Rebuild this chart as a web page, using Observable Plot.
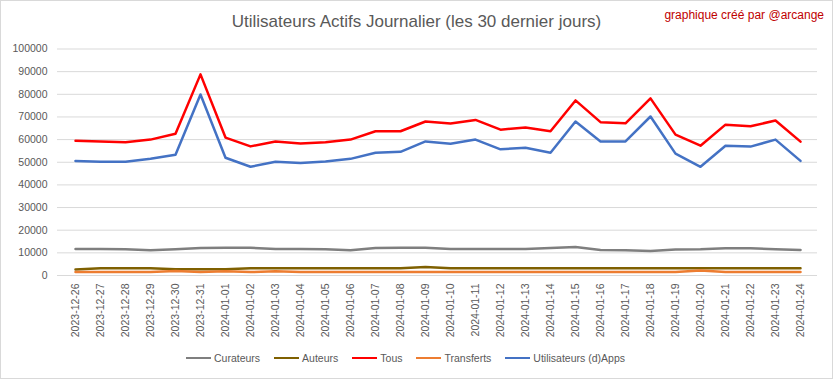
<!DOCTYPE html>
<html><head><meta charset="utf-8">
<script src="https://cdn.jsdelivr.net/npm/d3@7"></script>
<script src="https://cdn.jsdelivr.net/npm/@observablehq/plot@0.6"></script>
<style>
body{margin:0;background:#fff;font-family:"Liberation Sans",Arial,sans-serif;}
#chart{position:relative;width:833px;height:379px;box-sizing:border-box;border:1px solid #d9d9d9;background:#fff;overflow:hidden}
#title{position:absolute;left:0;width:831px;top:11px;text-align:center;font-size:17px;color:#595959;white-space:nowrap}
#credit{position:absolute;right:8px;top:7px;font-size:12px;color:#c00000;white-space:nowrap}
#plot{position:absolute;left:0;top:40px}
#legend{position:absolute;left:0;width:809px;padding-right:22px;top:351px;display:flex;justify-content:center;align-items:center;font-size:10.5px;color:#595959;white-space:nowrap}
.item{display:flex;align-items:center;margin:0 7px}
.sw{display:inline-block;width:25px;height:2.5px;margin-right:3px}
</style>
</head><body>
<div id="chart">
  <div id="title">Utilisateurs Actifs Journalier (les 30 dernier jours)</div>
  <div id="credit">graphique créé par @arcange</div>
  <div id="plot"></div>
  <div id="legend"></div>
</div>
<script>
const dates = ["2023-12-26","2023-12-27","2023-12-28","2023-12-29","2023-12-30","2023-12-31","2024-01-01","2024-01-02","2024-01-03","2024-01-04","2024-01-05","2024-01-06","2024-01-07","2024-01-08","2024-01-09","2024-01-10","2024-01-11","2024-01-12","2024-01-13","2024-01-14","2024-01-15","2024-01-16","2024-01-17","2024-01-18","2024-01-19","2024-01-20","2024-01-21","2024-01-22","2024-01-23","2024-01-24"];
const curateurs = [11700,11700,11600,11200,11600,12100,12200,12200,11700,11700,11600,11100,12100,12200,12200,11700,11700,11700,11700,12100,12600,11300,11200,10800,11500,11600,12000,12000,11600,11300];
const auteurs = [2700,3200,3200,3200,2800,2800,2800,3200,3200,3200,3200,3200,3200,3200,3800,3200,3200,3200,3200,3200,3200,3200,3200,3200,3200,3200,3200,3200,3200,3200];
const tous = [59500,59200,58800,60000,62600,88800,60900,57000,59200,58300,58800,60000,63700,63700,68000,67100,68700,64400,65300,63700,77300,67700,67200,78200,62200,57300,66600,65900,68400,59100];
const transferts = [1500,1500,1500,1500,2000,1500,1900,1500,1900,1500,1500,1500,1500,1500,1500,1500,1500,1500,1500,1500,1500,1500,1500,1500,1500,2200,1500,1500,1500,1500];
const apps = [50600,50200,50200,51500,53300,79900,52000,48000,50200,49700,50300,51500,54200,54600,59200,58200,60000,55700,56400,54200,68000,59200,59200,70200,53800,48000,57300,56900,60000,50600];
const seriesNames = ["Curateurs","Auteurs","Tous","Transferts","Utilisateurs (d)Apps"];
const seriesColors = ["#7f7f7f","#7f6000","#ff0000","#ed7d31","#4472c4"];
const yTicks = [0,10000,20000,30000,40000,50000,60000,70000,80000,90000,100000];

const values = [curateurs, auteurs, tous, transferts, apps];
const data = seriesNames.flatMap((s,k)=>dates.map((d,i)=>({date:d, value:values[k][i], series:s})));

const chart = Plot.plot({
  width:831, height:305,
  marginTop:7.5, marginBottom:71, marginLeft:56, marginRight:15,
  style:{fontFamily:"'Liberation Sans', Arial, sans-serif", fontSize:"10.5px", color:"#595959", background:"transparent", overflow:"visible"},
  x:{type:"point", domain:dates, padding:0.5},
  y:{domain:[0,100000]},
  color:{domain:seriesNames, range:seriesColors},
  marks:[
    Plot.gridY(yTicks,{stroke:"#d9d9d9", strokeOpacity:1, strokeWidth:1}),
    Plot.axisY(yTicks,{tickSize:0, tickPadding:10, tickFormat:d3.format("d"), label:null}),
    Plot.axisX({tickSize:0, tickPadding:8, tickRotate:-90, label:null}),
    Plot.line(data,{x:"date", y:"value", z:"series", stroke:"series", strokeWidth:2.5, strokeLinejoin:"round", strokeLinecap:"round"})
  ]
});
document.getElementById("plot").appendChild(chart);

const leg = document.getElementById("legend");
seriesNames.forEach((s,k)=>{
  const it = document.createElement("div"); it.className="item";
  const sw = document.createElement("span"); sw.className="sw"; sw.style.background=seriesColors[k];
  const tx = document.createElement("span"); tx.textContent=s;
  it.appendChild(sw); it.appendChild(tx); leg.appendChild(it);
});
</script>
</body></html>
